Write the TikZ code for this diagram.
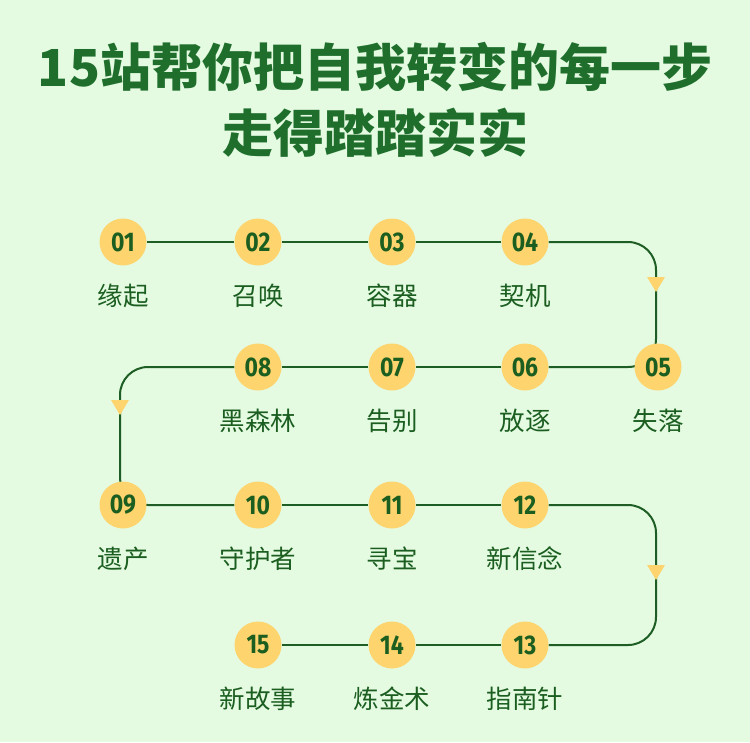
\documentclass[tikz,border=0pt]{standalone}
\usepackage{fontspec}
\newfontfamily\cjk{Noto Sans CJK SC}
\newfontfamily\numfont{Fira Sans}
\definecolor{bgc}{HTML}{E4FBE2}
\definecolor{dotc}{HTML}{FDD46E}
\definecolor{txtc}{HTML}{1B5E20}
\definecolor{titc}{HTML}{1F6E2C}
\definecolor{linec}{HTML}{1E5E24}
\pgfdeclarelayer{bgfill}
\pgfdeclarelayer{bg}
\pgfsetlayers{bgfill,bg,main}
\tikzset{
  dot/.style={circle,fill=dotc,minimum size=47pt,inner sep=0pt,text=txtc,
    font=\numfont\bfseries\fontsize{27}{27}\selectfont},
  lab/.style={anchor=base,text=txtc,inner sep=0pt,font=\cjk\fontsize{25.5}{25.5}\selectfont},
  tit/.style={anchor=base,text=titc,inner sep=0pt,font=\cjk\bfseries\fontsize{51}{51}\selectfont},
  conn/.style={draw=linec,line width=2pt,rounded corners=28pt},
  tri/.style={fill=dotc}
}
\begin{document}
\begin{tikzpicture}[x=1pt,y=-1pt]
\begin{pgfonlayer}{bgfill}
\fill[bgc] (0,0) rectangle (750,742);
\end{pgfonlayer}
\useasboundingbox (0,0) rectangle (750,742);
% title
\node[tit] (t1) at (375,86) {15站帮你把自我转变的每一步};
\node[tit] (t2) at (375,152) {走得踏踏实实};
% stations
\foreach \n/\x/\y/\l in {01/123/242/缘起,02/258/242/召唤,03/392/242/容器,04/525/242/契机,
  05/658/367/失落,06/525/367/放逐,07/392/367/告别,08/258/367/黑森林,
  09/123/505/遗产,10/258/505/守护者,11/392/505/寻宝,12/525/505/新信念,
  13/525/645/指南针,14/392/645/炼金术,15/258/645/新故事}{
  \node[dot] (n\n) at (\x,\y) {\scalebox{0.85}[1]{\n}};
  \pgfmathsetmacro{\ly}{\y+63}
  \node[lab] (l\n) at (\x,\ly) {\l};
}
\coordinate (c1) at (656,242);
\coordinate (c2) at (656,367);
\coordinate (c3) at (120,367);
\coordinate (c4) at (120,505);
\coordinate (c5) at (656,505);
\coordinate (c6) at (656,645);
\begin{pgfonlayer}{bg}
\draw[conn] (n01) -- (n02);
\draw[conn] (n02) -- (n03);
\draw[conn] (n03) -- (n04);
\draw[conn] (n04) -- (c1) -- (c2) -- (n06);
\draw[conn] (n06) -- (n07);
\draw[conn] (n07) -- (n08);
\draw[conn] (n08) -- (c3) -- (c4) -- (n10);
\draw[conn] (n10) -- (n11);
\draw[conn] (n11) -- (n12);
\draw[conn] (n12) -- (c5) -- (c6) -- (n13);
\draw[conn] (n13) -- (n14);
\draw[conn] (n14) -- (n15);
\end{pgfonlayer}
% arrow triangles
\fill[tri] (647,277) -- ++(18,0) -- ++(-9,15) -- cycle;
\fill[tri] (111,400) -- ++(18,0) -- ++(-9,15) -- cycle;
\fill[tri] (647,565) -- ++(18,0) -- ++(-9,15) -- cycle;
\end{tikzpicture}
\end{document}
